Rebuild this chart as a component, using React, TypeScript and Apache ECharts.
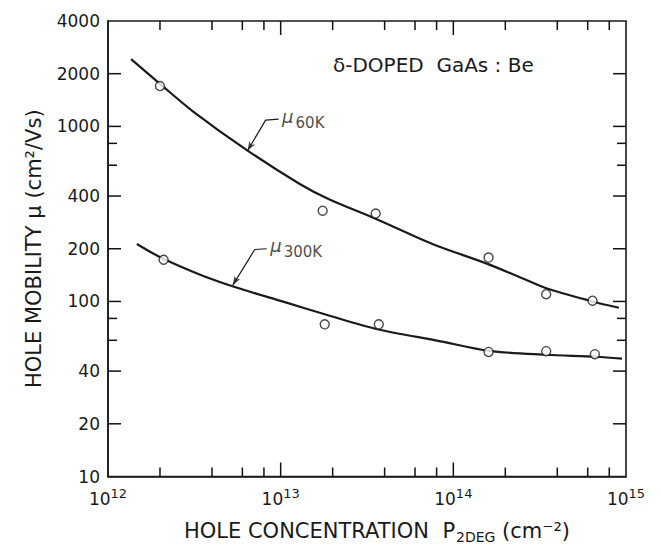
import React, { useEffect, useRef } from 'react';
import * as echarts from 'echarts';

// Axis ticks / labels (data units)
const xLabelExponents = [12, 13, 14, 15];
const xMajorTicks = [1e13, 1e14];
const xMinorTicks = [2e12, 4e12, 6e12, 8e12, 2e13, 4e13, 6e13, 8e13, 2e14, 4e14, 6e14, 8e14];
const yLabelValues = [10, 20, 40, 100, 200, 400, 1000, 2000, 4000];
const yMajorTicks = [20, 40, 100, 200, 400, 1000, 2000];
const yMinorTicks = [60, 80, 600, 800];

// Measured points (hole concentration cm^-2, mobility cm^2/Vs)
const conc60K = [2e12, 1.75e13, 3.55e13, 1.6e14, 3.45e14, 6.4e14];
const mob60K = [1700, 330, 318, 178, 110, 101];
const conc300K = [2.1e12, 1.8e13, 3.7e13, 1.6e14, 3.45e14, 6.6e14];
const mob300K = [173, 74, 74, 51.5, 52, 50];

// Drawn curves
const fit60KConc = [1.36e12, 2e12, 3.1e12, 6.4e12, 1.29e13, 1.92e13, 3.6e13, 7.56e13, 1.55e14, 2.41e14, 3.45e14, 6.4e14, 9.1e14];
const fit60KMob = [2420, 1750, 1220, 730, 469, 382, 295, 213, 165, 138, 119, 100, 92];
const fit300KConc = [1.47e12, 2.1e12, 4.44e12, 1.08e13, 1.84e13, 3.64e13, 8.3e13, 1.61e14, 3.45e14, 6.71e14, 9.48e14];
const fit300KMob = [213, 175, 129, 98.4, 84, 69.4, 59.4, 52.2, 49.6, 48.3, 47.1];

// Annotation leader lines (concentration, mobility)
const leader60KConc = [9.73e12, 8.18e12, 6.44e12];
const leader60KMob = [1100, 1086, 728];
const leader300KConc = [8.3e12, 7.08e12, 5.28e12];
const leader300KMob = [200, 198, 124];

const lg = (v: number) => Math.log10(v);
const toPts = (xs: number[], ys: number[]) => xs.map((x, i) => [lg(x), lg(ys[i])]);

const INK = '#1a1a1a';
const FONT = 'DejaVu Sans';
const X_MIN = 12;
const X_MAX = 15;
const Y_MIN = 1;
const Y_MAX = lg(4000);

export default function App() {
  const ref = useRef<HTMLDivElement>(null);
  useEffect(() => {
    const chart = echarts.init(ref.current!, null, { renderer: 'svg' });

    const xTickRows = [
      ...xMajorTicks.map((v) => [lg(v), 2, 14]),
      ...xMinorTicks.map((v) => [lg(v), 2, 9]),
    ];
    const yTickRows = [
      ...yMajorTicks.map((v) => [13.5, lg(v), 13]),
      ...yMinorTicks.map((v) => [13.5, lg(v), 9]),
    ];

    const leaderSeries = (conc: number[], mob: number[], sub: string, rot: number) => {
      const pts = toPts(conc, mob);
      return [
        {
          type: 'line',
          data: pts,
          symbol: 'none',
          lineStyle: { color: INK, width: 1.2 },
          z: 3,
        },
        {
          type: 'scatter',
          data: [
            {
              value: pts[0],
              symbol: 'circle',
              symbolSize: 1,
              itemStyle: { color: 'rgba(0,0,0,0)' },
              label: {
                show: true,
                position: 'right',
                distance: 3,
                formatter: `{m|μ}{s|${sub}}`,
                rich: {
                  m: { fontFamily: FONT, fontStyle: 'italic', fontSize: 18, color: INK, padding: [0, 0, 6, 0] },
                  s: { fontFamily: FONT, fontSize: 15, color: INK, padding: [7, 0, 0, 2] },
                },
              },
            },
            {
              value: pts[2],
              symbol: 'arrow',
              symbolSize: [5, 9],
              symbolRotate: rot,
              itemStyle: { color: INK },
            },
          ],
          z: 4,
        },
      ];
    };

    const option = {
      animation: false,
      backgroundColor: '#ffffff',
      title: {
        text: 'δ-DOPED  GaAs : Be',
        left: 333,
        top: 55,
        padding: 0,
        textStyle: { fontFamily: FONT, fontSize: 20, fontWeight: 'normal', color: INK },
      },
      grid: {
        left: 108,
        right: 34,
        top: 21,
        bottom: 64,
        show: true,
        borderColor: INK,
        borderWidth: 1.6,
        backgroundColor: 'rgba(0,0,0,0)',
      },
      xAxis: {
        type: 'value',
        min: X_MIN,
        max: X_MAX,
        splitLine: { show: false },
        axisLine: { show: true, onZero: false, lineStyle: { color: INK, width: 1.6 } },
        axisTick: { show: false },
        axisLabel: {
          customValues: xLabelExponents,
          margin: 8,
          formatter: (v: number) => `{b|10}{s|${Math.round(v)}}`,
          rich: {
            b: { fontFamily: FONT, fontSize: 17, color: INK, padding: [6, 0, 0, 0] },
            s: { fontFamily: FONT, fontSize: 13, color: INK, padding: [0, 0, 6, 0] },
          },
        },
        name: '{t|HOLE CONCENTRATION  P}{d|2DEG}{t| (cm⁻²)}',
        nameLocation: 'middle',
        nameGap: 44,
        nameTextStyle: {
          padding: [0, 0, 0, 20],
          rich: {
            t: { fontFamily: FONT, fontSize: 21, color: INK, padding: [0, 0, 3, 0] },
            d: { fontFamily: FONT, fontSize: 14, color: INK, padding: [9, 0, 0, 1] },
          },
        },
      },
      yAxis: {
        type: 'value',
        min: Y_MIN,
        max: Y_MAX,
        splitLine: { show: false },
        axisLine: { show: true, onZero: false, lineStyle: { color: INK, width: 1.6 } },
        axisTick: { show: false },
        axisLabel: {
          customValues: yLabelValues.map(lg),
          margin: 8,
          fontFamily: FONT,
          fontSize: 17,
          color: INK,
          formatter: (v: number) => String(Math.round(Math.pow(10, v))),
        },
        name: 'HOLE MOBILITY μ (cm²/Vs)',
        nameLocation: 'middle',
        nameGap: 64,
        nameRotate: 90,
        nameTextStyle: { fontFamily: FONT, fontSize: 21, color: INK, padding: [0, 0, 0, 0] },
      },
      series: [
        {
          type: 'custom',
          data: xTickRows,
          renderItem: (_p: any, api: any) => {
            const len = api.value(2);
            const b = api.coord([api.value(0), Y_MIN]);
            const t = api.coord([api.value(0), Y_MAX]);
            return {
              type: 'group',
              children: [
                { type: 'line', shape: { x1: b[0], y1: b[1], x2: b[0], y2: b[1] - len }, style: { stroke: '#111111', lineWidth: 1.5 } },
                { type: 'line', shape: { x1: t[0], y1: t[1], x2: t[0], y2: t[1] + len }, style: { stroke: '#111111', lineWidth: 1.5 } },
              ],
            };
          },
        },
        {
          type: 'custom',
          data: yTickRows,
          renderItem: (_p: any, api: any) => {
            const len = api.value(2);
            const l = api.coord([X_MIN, api.value(1)]);
            const r = api.coord([X_MAX, api.value(1)]);
            return {
              type: 'group',
              children: [
                { type: 'line', shape: { x1: l[0], y1: l[1], x2: l[0] + len, y2: l[1] }, style: { stroke: '#111111', lineWidth: 1.5 } },
                { type: 'line', shape: { x1: r[0], y1: r[1], x2: r[0] - len, y2: r[1] }, style: { stroke: '#111111', lineWidth: 1.5 } },
              ],
            };
          },
        },
        {
          type: 'line',
          data: toPts(fit60KConc, fit60KMob),
          smooth: 0.3,
          symbol: 'none',
          lineStyle: { color: INK, width: 2.2 },
          z: 2,
        },
        {
          type: 'line',
          data: toPts(fit300KConc, fit300KMob),
          smooth: 0.3,
          symbol: 'none',
          lineStyle: { color: INK, width: 2.2 },
          z: 2,
        },
        {
          type: 'scatter',
          data: toPts(conc60K, mob60K),
          symbol: 'circle',
          symbolSize: 9,
          itemStyle: { color: '#ffffff', borderColor: INK, borderWidth: 1.4 },
          z: 5,
        },
        {
          type: 'scatter',
          data: toPts(conc300K, mob300K),
          symbol: 'circle',
          symbolSize: 9,
          itemStyle: { color: '#ffffff', borderColor: INK, borderWidth: 1.4 },
          z: 5,
        },
        ...leaderSeries(leader60KConc, leader60KMob, '60K', 150),
        ...leaderSeries(leader300KConc, leader300KMob, '300K', 149),
      ],
    };
    chart.setOption(option as any);
    return () => chart.dispose();
  }, []);
  return <div ref={ref} style={{ position: 'fixed', left: 0, top: 0, width: 660, height: 549 }} />;
}
